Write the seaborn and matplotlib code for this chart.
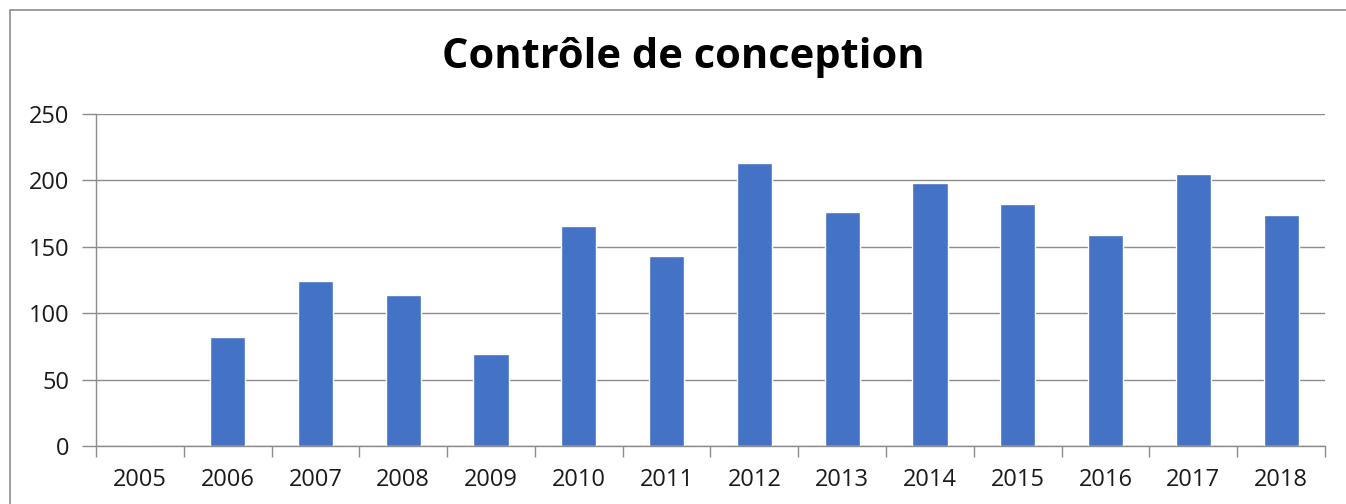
import matplotlib
matplotlib.use("Agg")
import matplotlib.pyplot as plt
from matplotlib.patches import Rectangle
import seaborn as sns
import pandas as pd

# Data
years = ["2005", "2006", "2007", "2008", "2009", "2010", "2011",
         "2012", "2013", "2014", "2015", "2016", "2017", "2018"]
counts = [0, 82, 124, 114, 69, 166, 143, 213, 176, 198, 182, 159, 205, 174]
title = "Contrôle de conception"

sns.set_theme(style="white")
plt.rcParams["font.family"] = ["Open Sans", "DejaVu Sans"]

df = pd.DataFrame({"Année": years, "Nombre": counts})
grey = "#8c8c8c"

fig = plt.figure(figsize=(13.46, 5.04), dpi=100)
ax = fig.add_axes([96 / 1346, 1 - 446 / 504, (1325 - 96) / 1346, (446 - 114) / 504])

sns.barplot(data=df, x="Année", y="Nombre", color="#4472c4", width=0.4,
            saturation=1, ax=ax)

ax.set_ylim(0, 250)
ax.set_xlim(-0.5, len(years) - 0.5)
ax.set_yticks(range(0, 251, 50))
ax.yaxis.grid(True, color=grey, linewidth=1)
ax.set_axisbelow(True)
ax.set_xlabel("")
ax.set_ylabel("")

for side in ["top", "right"]:
    ax.spines[side].set_visible(False)
for side in ["left", "bottom"]:
    ax.spines[side].set_color(grey)
    ax.spines[side].set_linewidth(1)

# x ticks between categories, labels centred under bars
ax.set_xticks([i - 0.5 for i in range(len(years) + 1)], minor=True)
ax.tick_params(axis="x", which="minor", length=8, color=grey, width=1, bottom=True)
ax.tick_params(axis="x", which="major", length=0, pad=16, labelsize=17, labelcolor="#1a1a1a")
ax.tick_params(axis="y", length=10, color=grey, width=1, pad=9, labelsize=17,
               labelcolor="#1a1a1a", left=True)

fig.text(0.508, 0.885, title, ha="center", va="center",
         fontsize=30, fontweight="bold", color="black")

# outer chart border (only top and left visible in the crop)
fig.patches.append(Rectangle((10 / 1346, -0.1), 1.2, 1 - 10 / 504 + 0.1,
                             transform=fig.transFigure, fill=False,
                             edgecolor=grey, linewidth=1.2))

fig.savefig("out.png", dpi=100)
plt.close(fig)
